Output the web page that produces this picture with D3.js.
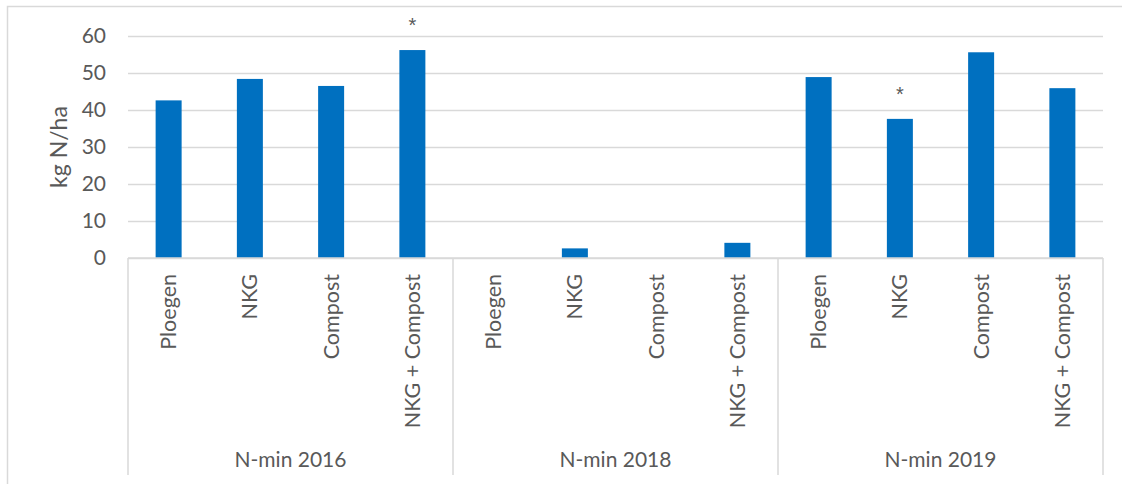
<!DOCTYPE html>
<html>
<head>
<meta charset="utf-8">
<script src="https://cdn.jsdelivr.net/npm/d3@7/dist/d3.min.js"></script>
<style>
  html, body { margin: 0; padding: 0; background: #ffffff; }
  svg { display: block; }
  text { font-family: Lato, "Liberation Sans", sans-serif; fill: #595959; }
</style>
</head>
<body>
<svg id="chart" width="1122" height="484"></svg>
<script>
// N-min measurements (kg N/ha) per treatment and year
const groups = ["N-min 2016", "N-min 2018", "N-min 2019"];
const treatments = ["Ploegen", "NKG", "Compost", "NKG + Compost"];
const values2016 = [42.6, 48.4, 46.5, 56.2];
const values2018 = [0, 2.6, 0, 4.1];
const values2019 = [48.9, 37.6, 55.6, 45.9];
// significance markers: [group index, treatment index]
const significant = [[0, 3], [2, 1]];
const yTicks = [0, 10, 20, 30, 40, 50, 60];

const seriesByGroup = [values2016, values2018, values2019];
const rows = [];
groups.forEach((g, gi) => {
  treatments.forEach((t, ti) => {
    rows.push({ key: gi + "|" + ti, group: g, gi, ti, label: t, value: seriesByGroup[gi][ti] });
  });
});

const svg = d3.select("#chart");
const W = 1122, H = 484;
const plot = { left: 128, right: 1103, top: 36, bottom: 258 };
const axisBottom = 475;
const grid = "#d9d9d9";
const font = "Lato, 'Liberation Sans', sans-serif";

// outer chart frame
svg.append("rect")
  .attr("x", 7.5).attr("y", 6.5)
  .attr("width", W + 20).attr("height", H + 20)
  .attr("fill", "none").attr("stroke", grid).attr("stroke-width", 1.5);

const x = d3.scaleBand()
  .domain(rows.map(d => d.key))
  .range([plot.left, plot.right])
  .paddingInner(0.68).paddingOuter(0.34);

const xGroup = d3.scaleBand()
  .domain(groups)
  .range([plot.left, plot.right]);

const y = d3.scaleLinear().domain([0, 60]).range([plot.bottom, plot.top]);

// horizontal gridlines with value labels
const yAxis = d3.axisLeft(y).tickValues(yTicks).tickSize(-(plot.right - plot.left)).tickPadding(22);
const gy = svg.append("g").attr("transform", `translate(${plot.left},0)`).call(yAxis);
gy.select(".domain").remove();
gy.selectAll(".tick line").attr("stroke", grid).attr("stroke-width", 1.5);
gy.selectAll(".tick text")
  .attr("font-size", 21).attr("fill", "#595959")
  .style("font-family", font);

// y axis title
svg.append("text")
  .attr("transform", `translate(67,${(plot.top + plot.bottom) / 2}) rotate(-90)`)
  .attr("text-anchor", "middle")
  .attr("font-size", 23)
  .text("kg N/ha");

// bars
svg.append("g").selectAll("rect")
  .data(rows)
  .join("rect")
  .attr("x", d => x(d.key))
  .attr("width", x.bandwidth())
  .attr("y", d => y(d.value))
  .attr("height", d => y(0) - y(d.value))
  .attr("fill", "#0070c0");

// significance asterisks
svg.append("g").selectAll("text")
  .data(significant.map(([gi, ti]) => rows.find(r => r.gi === gi && r.ti === ti)))
  .join("text")
  .attr("x", d => x(d.key) + x.bandwidth() / 2)
  .attr("y", d => y(d.value) - 18)
  .attr("text-anchor", "middle")
  .attr("font-size", 20)
  .style("font-family", "'Liberation Sans', sans-serif")
  .attr("fill", "#404040")
  .text("*");

// category axis frame: baseline and group separators
svg.append("line")
  .attr("x1", plot.left).attr("x2", plot.right)
  .attr("y1", plot.bottom).attr("y2", plot.bottom)
  .attr("stroke", grid).attr("stroke-width", 1.5);

const sepX = groups.map(g => xGroup(g)).concat([plot.right]);
svg.append("g").selectAll("line")
  .data(sepX)
  .join("line")
  .attr("x1", d => d).attr("x2", d => d)
  .attr("y1", plot.bottom).attr("y2", axisBottom)
  .attr("stroke", grid).attr("stroke-width", 1.5);

// treatment labels (rotated)
svg.append("g").selectAll("text")
  .data(rows)
  .join("text")
  .attr("transform", d => `translate(${x(d.key) + x.bandwidth() / 2 + 7.5},${plot.bottom + 16}) rotate(-90)`)
  .attr("text-anchor", "end")
  .attr("font-size", 21.5)
  .text(d => d.label);

// group labels
svg.append("g").selectAll("text")
  .data(groups)
  .join("text")
  .attr("x", d => xGroup(d) + xGroup.bandwidth() / 2)
  .attr("y", 467)
  .attr("text-anchor", "middle")
  .attr("font-size", 21)
  .text(d => d);
</script>
</body>
</html>
